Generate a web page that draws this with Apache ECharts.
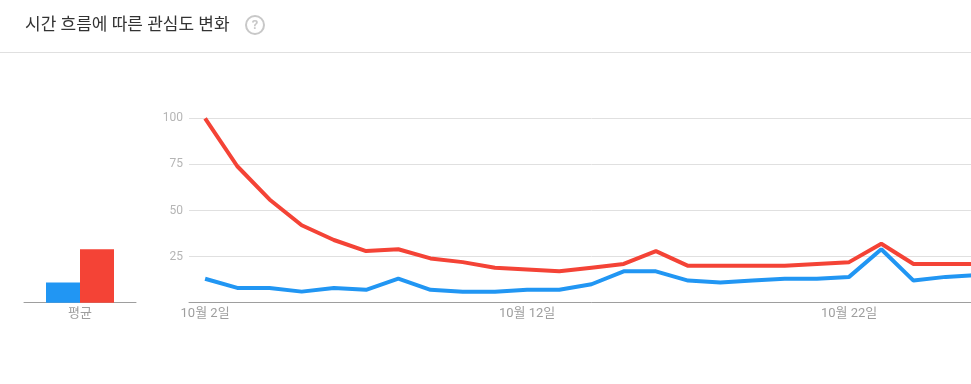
<!DOCTYPE html>
<html>
<head>
<meta charset="utf-8">
<script src="https://cdn.jsdelivr.net/npm/echarts@6/dist/echarts.min.js"></script>
<style>
html,body{margin:0;padding:0;background:#fff;overflow:hidden;width:971px;height:384px;}
#chart{width:994px;height:384px;}
</style>
</head>
<body>
<div id="chart"></div>
<script>
const dates = ['10월 2일','10월 3일','10월 4일','10월 5일','10월 6일','10월 7일','10월 8일','10월 9일','10월 10일','10월 11일','10월 12일','10월 13일','10월 14일','10월 15일','10월 16일','10월 17일','10월 18일','10월 19일','10월 20일','10월 21일','10월 22일','10월 23일','10월 24일','10월 25일','10월 26일'];
const redSeries  = [100,74,56,42,34,28,29,24,22,19,18,17,19,21,28,20,20,20,20,21,22,32,21,21,21];
const blueSeries = [13,8,8,6,8,7,13,7,6,6,7,7,10,17,17,12,11,12,13,13,14,29,12,14,15];
const averageLabel = ['평균'];
const blueAverage = [11];
const redAverage = [29];
const yTicks = [0,25,50,75,100];

const BLUE = '#2196f3';
const RED = '#f44336';
const FONT = "Roboto, 'Noto Sans CJK KR', sans-serif";

const chart = echarts.init(document.getElementById('chart'), null, {renderer:'canvas'});
chart.setOption({
  animation:false,
  textStyle:{fontFamily:FONT},
  graphic:[
    {type:'text', x:25, y:26, style:{text:'시간 흐름에 따른 관심도 변화', fontSize:17, fill:'#333', verticalAlign:'middle', fontFamily:FONT}},
    {type:'circle', shape:{cx:255, cy:25, r:9}, style:{fill:'none', stroke:'#c8c8c8', lineWidth:2}},
    {type:'text', x:255, y:25.5, style:{text:'?', fontSize:13, fontWeight:'bold', fill:'#c8c8c8', align:'center', verticalAlign:'middle', fontFamily:FONT}},
    {type:'line', shape:{x1:0, y1:52.5, x2:994, y2:52.5}, style:{stroke:'#e0e0e0', lineWidth:1}}
  ],
  grid:[
    {left:189, top:118.3, bottom:81.3, right:0, containLabel:false},
    {left:24, top:118.3, bottom:81.3, width:112, containLabel:false}
  ],
  xAxis:[
    {gridIndex:0, type:'category', data:dates, boundaryGap:true,
     axisLine:{lineStyle:{color:'#9e9e9e', width:1}}, axisTick:{show:false},
     axisLabel:{interval:9, color:'#9e9e9e', fontSize:13, margin:5, fontFamily:FONT}},
    {gridIndex:1, type:'category', data:averageLabel,
     axisLine:{lineStyle:{color:'#9e9e9e', width:1}}, axisTick:{show:false},
     axisLabel:{color:'#9e9e9e', fontSize:13, margin:5, fontFamily:FONT}}
  ],
  yAxis:[
    {gridIndex:0, type:'value', min:yTicks[0], max:yTicks[yTicks.length-1], interval:25,
     axisLine:{show:false}, axisTick:{show:false},
     splitLine:{lineStyle:{color:'#e0e0e0', width:1}},
     axisLabel:{color:'#b5b5b5', fontSize:12, margin:6, fontFamily:FONT,
       formatter:v => v === 0 ? '' : String(v)}},
    {gridIndex:1, type:'value', min:0, max:100, show:false}
  ],
  series:[
    {type:'line', xAxisIndex:0, yAxisIndex:0, data:blueSeries, symbol:'none', z:3,
     lineStyle:{color:BLUE, width:4}, itemStyle:{color:BLUE}},
    {type:'line', xAxisIndex:0, yAxisIndex:0, data:redSeries, symbol:'none', z:4,
     lineStyle:{color:RED, width:4}, itemStyle:{color:RED}},
    {type:'bar', xAxisIndex:1, yAxisIndex:1, data:blueAverage, barWidth:34, barGap:'0%',
     itemStyle:{color:BLUE}},
    {type:'bar', xAxisIndex:1, yAxisIndex:1, data:redAverage, barWidth:34, barGap:'0%',
     itemStyle:{color:RED}}
  ]
});
</script>
</body>
</html>
